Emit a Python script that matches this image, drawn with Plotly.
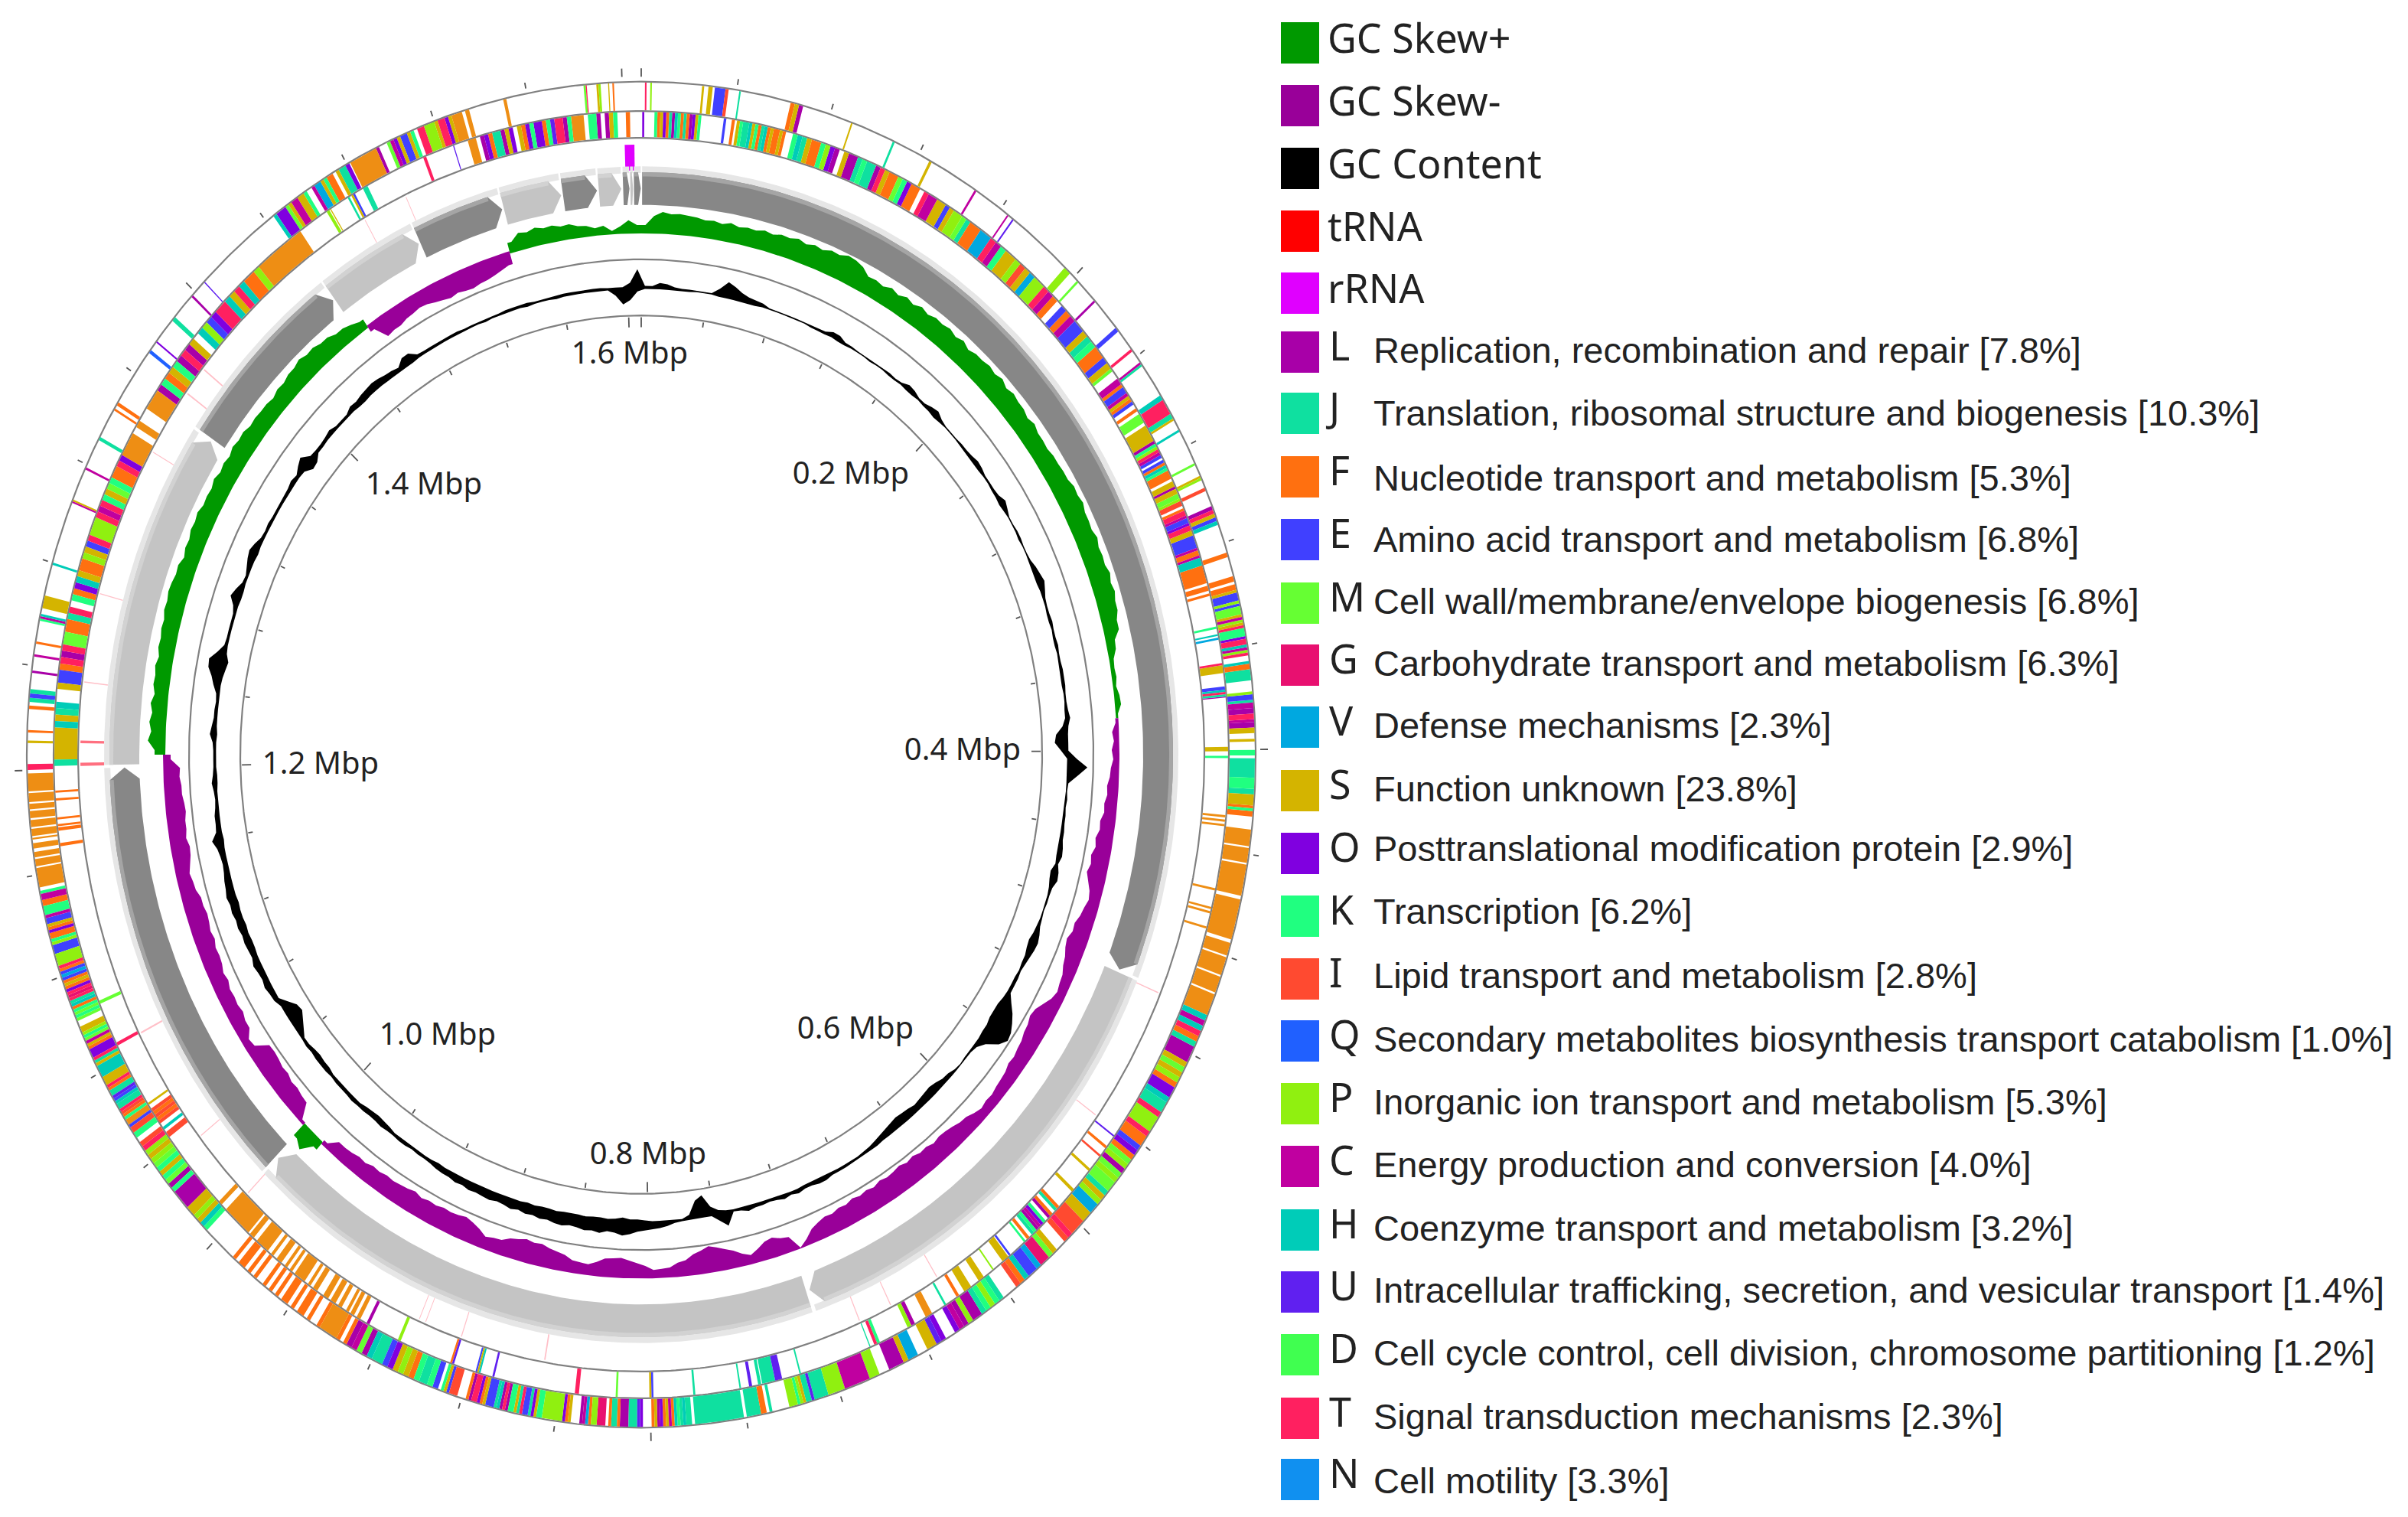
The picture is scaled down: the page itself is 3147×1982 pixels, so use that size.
import numpy as np
import plotly.graph_objects as go

W, H = 3147, 1982
CX, CY, STRETCH = 838, 986, 1.095
GENOME_MBP = 1.608

COG_COLORS = {"L": "#A800A8", "J": "#0FE0A0", "F": "#FF7010", "f": "#EE8E14", "E": "#4040FF", "M": "#66FF33",
              "G": "#E81070", "V": "#00A8E0", "S": "#D4B400", "O": "#8000E0", "K": "#20FF80", "I": "#FF4A30",
              "Q": "#2060FF", "P": "#90F010", "C": "#C000A0", "H": "#00CCB8", "U": "#6020F0", "D": "#40FF50",
              "T": "#FF2060", "N": "#1090F0"}

LEGEND_TOP = ["GC Skew+", "GC Skew-", "GC Content", "tRNA", "rRNA"]
LEGEND_TOP_COLORS = ["#009900", "#990099", "#000000", "#FF0000", "#E000FF"]
LEGEND_LETTERS = list("LJFEMGVSOKIQPCHUDTN")
LEGEND_TEXT = ["Replication, recombination and repair [7.8%]", "Translation, ribosomal structure and biogenesis [10.3%]",
               "Nucleotide transport and metabolism [5.3%]", "Amino acid transport and metabolism [6.8%]",
               "Cell wall/membrane/envelope biogenesis [6.8%]", "Carbohydrate transport and metabolism [6.3%]",
               "Defense mechanisms [2.3%]", "Function unknown [23.8%]", "Posttranslational modification protein [2.9%]",
               "Transcription [6.2%]", "Lipid transport and metabolism [2.8%]",
               "Secondary metabolites biosynthesis transport catabolism [1.0%]", "Inorganic ion transport and metabolism [5.3%]",
               "Energy production and conversion [4.0%]", "Coenzyme transport and metabolism [3.2%]",
               "Intracellular trafficking, secretion, and vesicular transport [1.4%]",
               "Cell cycle control, cell division, chromosome partitioning [1.2%]", "Signal transduction mechanisms [2.3%]",
               "Cell motility [3.3%]"]

MAP_LABELS = ["1.6 Mbp", "0.2 Mbp", "0.4 Mbp", "0.6 Mbp", "0.8 Mbp", "1.0 Mbp", "1.2 Mbp", "1.4 Mbp"]

# GC skew, one value per degree clockwise from the origin; + is outward (green), - inward (purple)
GC_SKEW = [
 10,21,26,24,25,24,23,21,22,20, 23,20,22,21,24,22,25,24,27,24, 27,25,29,28,32,31,28,21,22,20,
 24,21,25,22,26,23,26,25,27,24, 27,23,26,26,28,26,29,25,28,26, 26,23,26,23,23,22,24,24,25,25,
 28,27,29,26,26,25,28,25,26,25, 28,25,27,24,24,20,20,12,11,6, 5,6,4,7,8,3,-4,-9,-7,-10,
 -8,-11,-12,-15,-14,-17,-16,-20,-19,-23, -21,-25,-23,-26,-22,-17,-15,-18,-20,-24, -23,-27,-25,-21,-19,-15,-14,-12,-15,-21,
 -27,-29,-26,-25,-22,-21,-19,-20,-17,-16, -15,-13,-14,-12,-15,-19,-20,-23,-25,-26, -24,-27,-26,-29,-27,-30,-28,-27,-29,-26,
 -28,-26,-28,-25,-26,-23,-24,-21,-17,-8, -1,-18,-20,-24,-22,-16,-11,-15,-21,-25, -29,-32,-28,-25,-19,-17,-12,-11,-10,-15,
 -18,-21,-24,-23,-22,-17,-13,-14,-15,-20, -22,-24,-27,-26,-28,-25,-23,-18,-17,-15, -21,-25,-28,-26,-25,-26,-24,-25,-23,-26,
 -24,-23,-22,-23,-21,-22,-19,-20,-18,-17, -17,-6,12,27,20,-4,-22,-23,-25,-24, -27,-26,-28,-29,-28,-12,-10,-18,-18,-21,
 -19,-20,-19,-22,-20,-23,-24,-23,-26,-24, -26,-27,-25,-25,-21,-20,-18,-21,-24,-25, -22,-24,-24,-26,-25,-23,-23,-21,-22,-10,
 14,23,19,22,19,22,18,21,20,22, 19,22,21,23,22,25,24,26,25,23, 24,20,23,22,25,24,26,23,24,23,
 26,23,25,23,26,24,25,22,23,22, 22,20,23,22,25,25,28,25,26,23, 23,19,19,16,12,-9,-26,-24,-24,-21,
 -20,-18,-19,-22,-24,-26,-24,-26,-27,-25, -24,-22,-19,-16,13,21,19,22,19,20, 17,18,14,13,9,11,4,9,16,10]

# GC content excursions outward and inward of the track centre, one value per degree
GC_UP = [
 2,2,6,5,2,1,1,1,1,1, 8,18,14,9,6,5,4,1,1,1, 1,1,1,1,2,2,6,6,2,2, 1,1,1,1,2,2,1,2,6,5,
 2,2,5,7,3,1,1,1,2,2, 3,5,4,2,2,2,3,7,4,1, 1,2,2,1,1,2,5,7,9,6, 3,2,2,3,2,2,3,2,2,3,
 3,3,2,2,3,5,2,1,1,1, 12,26,14,2,1,2,1,2,2,3, 3,5,6,3,6,7,3,2,2,1, 2,3,6,8,7,5,3,2,3,3,
 3,10,18,24,29,31,24,10,3,1, 1,1,1,1,1,1,1,1,1,1, 1,1,1,1,1,1,2,2,2,2, 2,3,3,3,5,5,3,3,5,3,
 5,3,2,3,3,5,2,1,16,8, 1,1,1,1,2,3,6,8,9,10, 12,15,17,14,13,16,14,15,13,12, 14,13,11,12,10,11,9,11,9,8,
 10,9,8,9,7,8,6,6,5,3, 2,2,1,2,2,1,1,2,1,1, 2,2,3,2,2,2,1,2,2,2, 1,2,1,1,1,1,1,1,5,6,
 8,6,7,9,6,7,8,7,9,8, 10,9,11,9,8,6,5,6,8,13, 6,5,5,3,2,3,5,3,2,2, 2,3,7,5,3,3,2,3,8,12,
 18,19,10,3,2,2,2,2,5,12, 8,3,2,5,8,10,7,3,2,3, 2,2,2,2,3,5,3,8,12,3, 2,2,3,5,2,2,2,6,5,7,
 8,9,8,6,5,3,10,10,3,2, 2,2,2,2,2,1,1,1,1,1, 1,2,2,2,2,1,1,1,2,2, 2,2,2,2,2,1,1,1,6,22]
GC_DOWN = [
 1,1,1,1,1,1,1,0,0,0, 1,1,1,1,1,1,0,0,0,0, 0,0,0,1,1,1,0,1,1,0, 0,0,1,0,0,1,1,0,1,1,
 0,1,1,2,1,0,0,0,0,1, 1,1,1,0,0,1,1,2,1,0, 0,0,1,0,0,0,1,1,1,0, 0,0,1,1,0,1,1,0,1,1,
 1,1,0,0,1,1,5,14,16,8, 0,0,0,0,0,0,1,1,1,1, 1,1,1,0,4,3,1,0,0,0, 0,1,2,4,3,1,1,0,1,1,
 1,2,4,4,4,2,2,1,1,1, 1,0,1,4,5,8,10,9,8,7, 9,10,11,10,8,6,4,2,1,0, 0,0,0,1,1,1,1,1,0,0,
 0,1,1,1,1,1,1,1,2,4, 10,25,20,4,0,0,0,0,0,1, 2,2,4,2,1,2,2,1,2,2, 2,1,2,2,1,2,1,1,1,1,
 1,1,1,1,1,1,1,1,2,1, 1,1,2,2,2,2,4,5,6,5, 4,2,2,2,2,2,2,4,4,5, 4,2,2,8,14,19,17,9,1,1,
 1,1,1,1,1,2,2,1,2,1, 1,2,1,1,1,1,1,1,1,2, 1,1,1,1,1,1,2,2,1,1, 1,1,2,1,1,1,1,1,1,2,
 4,6,2,1,1,1,1,1,1,2, 2,1,1,1,1,2,1,1,1,1, 1,1,1,1,1,1,1,2,9,8, 2,2,1,1,1,1,1,1,2,2,
 1,1,1,1,2,2,2,2,1,1, 1,1,1,1,1,1,1,1,2,1, 1,1,1,1,2,1,1,1,2,1, 1,1,1,1,1,1,8,19,14,4]

# coding blocks on the backbone: start, end (degrees clockwise), shade 0 dark / 1 light
BLOCK_START = [0.1, 112.6, 161.4, 224.9, 269.0, 303.9, 323.6, 334.7, 344.6, 351.3, 355.3, 358.0, 358.8, 359.2]
BLOCK_END = [112.3, 161.0, 224.6, 268.7, 303.6, 323.4, 334.5, 344.4, 351.1, 355.1, 357.8, 358.7, 359.1, 359.95]
BLOCK_SHADE = [0, 1, 1, 0, 1, 0, 1, 0, 1, 0, 1, 0, 1, 0]

TRNA_DEG = [112.8, 125.9, 148.2, 153.6, 157.1, 189.9, 198.7, 202.6, 203.3, 224.5, 231.7, 243.1, 269.1, 271.2, 276.8,
            285.2, 299.5, 306.0, 308.8, 330.5, 335.2]
TRNA_WIDTH = [0.12, 0.1, 0.1, 0.1, 0.1, 0.14, 0.1, 0.08, 0.08, 0.1, 0.1, 0.16, 0.3, 0.25, 0.1, 0.1, 0.1, 0.14, 0.14, 0.08, 0.08]
RRNA_SPAN = (358.3, 359.3)

# outer gene ring: start degree, end degree, gene classes in equal slices ('.' = no gene)
OUTER_GENES = [
 (0.35, 0.5, "T"), (0.85, 1.0, "P"), (5.7, 5.9, "S"), (6.3, 6.7, "S"), (6.9, 7.9, "EEE"), (7.9, 8.2, "I"), (9.2, 9.35, "J"),
 (14.1, 15.3, "FSL"), (20, 20.15, "S"), (24.2, 24.4, "J"), (28, 28.25, "S"), (32.9, 33.1, "C"), (36.6, 36.75, "C"),
 (37.2, 37.35, "U"), (43.6, 44.3, "P"), (45.2, 45.4, "M"), (47.5, 47.7, "L"), (50.6, 51, "E"), (52.9, 53.15, "T"),
 (54.3, 54.7, "CJ"), (57.7, 60, "HTTTJ"), (60, 60.2, "S"), (61.1, 61.3, "H"), (64.3, 64.5, "M"), (65.5, 65.9, "SP"),
 (66.6, 66.9, "I"), (68.3, 70, "LTSEH"), (72.5, 72.9, "F"),
 (74.6, 95.3, "FF.FFSEEEPEMMMSCPSTKKKOTTHCPT..HFFJJJJ....PEEJCCLLTTCLLSS..S...KK.JJJJJJJKKKKJJSSSSFKFF"),
 (96.4, 112.8, "fffffffff.ffffffff.fffffffffffffffff..ffffffffffffffffffffff..fffffff.ffffffffff.fffffffff.ffffffffffff"),
 (112.8, 129, "HCHTFJLLLSMSPFOOHJJTPPPTFFEOFMPLM"),
 (129, 160.6, "PMMJSPVVSSIIITI..SMGGVEEHFI...JKPKJLLPLCO..OUSS..VVSLLL..PPCCCCC"),
 (160.6, 200.7, "PPPPPPJJJJJUJJSPKPPP......J.FFJJJJJ.JJJJJJJJJJJJJJJJJ.JJHJKHFCSFOLSF...OUJJJLLLFJJF.GGGPPFVCL...SFOPPPPPPPKKSOJEETJSKKLTLHJEEESFOTTLF...IIIESK.EEKKJ"),
 (200.7, 208.7, "JKFSPSOEJJHLMCL"),
 (208.7, 221.7, "F.FfffffF..F.FF.F.FF.F.F.F..F.F.FF.F"),
 (225.0, 234.8, "KHSPSSLLLLKLMKSKMPSPTI"),
 (235.0, 258.3, ".KKIIEffKFITJJHEUJJFTSSSHHHHSJTOOOFSCMKPSS..MKMKFHJTGTOFSFEVEFTPPPPEEEPKFFOFSEECKKKFFCCK"),
 (258.6, 268.4, "fffffffffff.ffff.fff..fff..f.ffff.ffff.ffff.fff.fffff.ffffffffff"),
 (268.7, 269.2, "T"), (271, 271.2, "S"), (271.9, 272.1, "F"), (273.9, 274.2, "F"), (274.5, 275.6, "JEJ"), (277, 277.2, "L"),
 (278.4, 278.6, "C"), (279.5, 279.7, "F"), (281.5, 282.1, "KCH"), (282.6, 283.7, "SSS"), (286.4, 286.6, "H"),
 (292, 292.3, "CS"), (295.1, 295.3, "C"), (297.9, 298.2, "J"), (300.8, 301, "F"), (301.3, 301.6, "F"),
 (306.7, 307, "Q"), (307.8, 307.95, "O"), (310.2, 310.6, "JJ"), (312.9, 313.1, "L"), (314.6, 314.7, "U"),
 (323.2, 327.3, "HOOOMSCCSSK."), (327.5, 330.8, "CVVSKFF.SJ"), (330.8, 331.6, "JO"), (331.7, 334.4, "fffffff"),
 (334.4, 334.7, "L"), (335.5, 339.6, "MCOSEESK.TTP"), (339.6, 343, "PPSTTOSfff"), (343.3, 343.7, "f"), (347, 347.3, "f"),
 (354.6, 354.8, "M"), (354.8, 354.9, "T"), (355.8, 356.2, "SP"), (356.9, 357, "S"), (357.3, 357.45, "F"),
]

# inner gene ring, same form
INNER_GENES = [
 (0.1, 0.3, "O"), (1.3, 5.9, "KFSOFJLHKFJFLOSK"), (8.1, 8.35, "E"), (8.9, 9.2, "F"), (9.4, 14.3, "SKJJHSKFJHFSFFSF"),
 (15, 34.1, "KHJSFFKPOL.SLLJKJJLTSFFMKOFF.TCCSSESPPMJ"), (34.1, 53.1, "FFVVTCKSSPISVPPTCF.EFCEESJKFFES"),
 (53.1, 53.4, "M"), (54.2, 57, "CCFEECSFE"), (57.4, 57.7, "F"), (58, 58.9, "MM"), (59.2, 60.5, "SSS"),
 (60.5, 62.5, "SLKPTCE"), (62.7, 65.1, "EFHKFFF.S"), (65.1, 75.7, "SLSSMMPII.FTTCEEOTTSSEEEEECFFCHHHFFFFFFF.FF.F"),
 (78.5, 78.7, "K"), (79.2, 79.35, "H"), (79.5, 79.7, "V"), (81.8, 82, "T"), (82, 82.7, "SS"), (83.9, 84.2, "E"),
 (84.2, 84.4, "H"), (84.4, 84.6, "T"), (84.6, 84.8, "J"), (84.8, 84.9, "L"), (89.3, 89.7, "S"), (90.1, 90.3, "K"),
 (95.4, 96.4, "f.f.f"), (102, 102.2, "f"), (103.7, 104.3, "f.f"), (105.5, 105.7, "f"),
 (126.3, 126.45, "U"), (127.5, 127.75, "F"), (128.5, 128.7, "I"), (130.1, 130.35, "S"), (132.5, 132.8, "S"),
 (134.6, 138.9, "FJ.FL.KOCLKJ.F"), (139.1, 139.3, "K"), (141, 141.2, "E"), (141.3, 142, "SS"), (143.1, 143.25, "P"),
 (144.3, 144.9, "SS"), (145.8, 146.6, "SS"), (147.2, 147.5, "F"), (148.7, 148.9, "J"), (150.3, 151, "ff"),
 (152.2, 153, "LP"), (156, 156.6, "KT"), (157, 157.1, "J"), (164.2, 164.35, "J"), (166.1, 166.8, "UU"),
 (166.8, 168.1, "JJJ"), (168.2, 168.5, "J"), (169.1, 169.4, "U"), (170.2, 170.35, "J"), (174.7, 174.9, "J"),
 (178.8, 179.2, "ES"), (182.3, 182.5, "M"), (186.1, 186.5, "T"), (194.5, 194.7, "U"), (195.9, 196.4, "HSE"),
 (198.6, 199, "UF"), (204.2, 204.5, "P"), (207.6, 207.9, "L"), (208.6, 209, "f"), (209.3, 209.7, "f"), (209.9, 210.2, "f"),
 (210.7, 211.1, "f"), (211.4, 212.8, "ff.ff"), (213.5, 214, "f"), (214.3, 214.6, "f"), (215, 216.2, "ffff"),
 (216.5, 216.8, "f"), (217.1, 217.4, "f"), (217.8, 218.4, "f"), (218.8, 219.1, "f"), (219.5, 220.9, "fff"),
 (221.3, 221.8, "f"), (222, 225, "fffff"), (225.6, 226, "f"), (233.5, 234.6, "II.H"), (235, 236.6, "IFIFI"),
 (237, 237.2, "S"), (243.1, 243.4, "T"), (247.2, 247.5, "M"), (261.8, 262.1, "F"), (263.2, 263.5, "F"),
 (263.6, 263.8, "F"), (264.2, 264.4, "F"), (265.9, 266.1, "F"), (266.6, 266.8, "F"),
 (269, 283.9, "JSSSSSHSJH..SEEFTLTMMFFJT."), (283.9, 300, "KFOHSFFPSETPPPTCTKSMKFFTOffff"),
 (300, 324.5, ".f..fffLKFSKLTLS.HPEOTTHSTHFFPffffffff"), (327.6, 327.9, "P"), (328, 328.1, "S"), (330, 330.2, "J"),
 (330.4, 330.8, "SE"), (331.7, 332.2, "J"), (338.2, 338.5, "T"), (341.3, 341.4, "U"),
 (342.8, 358.9, "ff.LOFJJLSO.SFOKOOFKUTTLKfff.KKL.LSK..F"),
]

RING_RADII = [803, 768, 736, 591, 524]
OUTER_BAND, INNER_BAND = (769, 802), (737, 767)
BACKBONE = (656, 695)
GREEN_BASE, PURPLE_BASE, GC_BASE = 622, 625, 557
TRNA_BAND = (702, 733)
RRNA_BAND = (697, 728)


def arc(a0, a1, r):
    n = max(2, int(abs(a1 - a0) / 0.5) + 2)
    return np.linspace(a0, a1, n), np.full(n, float(r))


def to_xy(deg, r):
    t = np.radians(deg)
    return np.asarray(r) * np.sin(t), np.asarray(r) * np.cos(t)


def band_poly(a0, a1, r0, r1):
    a_o, r_o = arc(a0, a1, r1)
    a_i, r_i = arc(a1, a0, r0)
    return np.r_[a_o, a_i], np.r_[r_o, r_i]


class Poly:
    def __init__(self):
        self.x, self.y = [], []

    def add(self, deg, r):
        x, y = to_xy(deg, r)
        self.x += list(x) + [None]
        self.y += list(y) + [None]


def fill_trace(p, color):
    return go.Scatter(x=p.x, y=p.y, mode="lines", fill="toself", fillcolor=color, line=dict(width=0, color=color),
                      hoverinfo="skip", showlegend=False, xaxis="x", yaxis="y")


fig = go.Figure()

# ring outlines
for r in RING_RADII:
    d = np.linspace(0, 360, 721)
    x, y = to_xy(d, np.full(d.size, r))
    fig.add_trace(go.Scatter(x=x, y=y, mode="lines", line=dict(color="#808080", width=2.2), hoverinfo="skip", showlegend=False))

# gene rings
polys = {k: Poly() for k in COG_COLORS}
for tracks, band in ((OUTER_GENES, OUTER_BAND), (INNER_GENES, INNER_BAND)):
    for a0, a1, s in tracks:
        w = (a1 - a0) / len(s)
        i = 0
        while i < len(s):
            j = i
            while j + 1 < len(s) and s[j + 1] == s[i]:
                j += 1
            if s[i] != ".":
                polys[s[i]].add(*band_poly(a0 + i * w, a0 + (j + 1) * w, *band))
            i = j + 1
for k, p in polys.items():
    if p.x:
        fig.add_trace(fill_trace(p, COG_COLORS[k]))

# tRNA / rRNA
pale, strong = Poly(), Poly()
for d, w in zip(TRNA_DEG, TRNA_WIDTH):
    (strong if w > 0.2 else pale).add(*band_poly(d - w / 2, d + w / 2, *TRNA_BAND))
fig.add_trace(fill_trace(pale, "#FFC0C8"))
fig.add_trace(fill_trace(strong, "#FF7080"))
p = Poly()
p.add(*band_poly(*RRNA_SPAN, *RRNA_BAND))
fig.add_trace(fill_trace(p, "#E000FF"))

# backbone
glow = Poly()
for s, e in zip(BLOCK_START, BLOCK_END):
    glow.add(*band_poly(s, e, BACKBONE[1] - 1, BACKBONE[1] + 7))
fig.add_trace(fill_trace(glow, "#e6e6e6"))
SHADES = ["#878787", "#c4c4c4"]
EDGE = ["#a5a5a5", "#d2d2d2"]
for shade in (0, 1):
    main, edge = Poly(), Poly()
    for s, e, sh in zip(BLOCK_START, BLOCK_END, BLOCK_SHADE):
        if sh != shade:
            continue
        head = min(1.2, (e - s) * 0.4)
        mid = (BACKBONE[0] + BACKBONE[1]) / 2
        a_o, r_o = arc(s, e - head, BACKBONE[1])
        a_i, r_i = arc(e - head, s, BACKBONE[0])
        main.add(np.r_[a_o, e, a_i], np.r_[r_o, mid, r_i])
        a_o, r_o = arc(s, e - head, BACKBONE[1])
        a_i, r_i = arc(e - head, s, BACKBONE[1] - 5)
        edge.add(np.r_[a_o, a_i], np.r_[r_o, r_i])
    fig.add_trace(fill_trace(main, SHADES[shade]))
    fig.add_trace(fill_trace(edge, EDGE[shade]))

# GC skew
skew = np.array(GC_SKEW, float)
green, purple = Poly(), Poly()
i = 0
while i < 360:
    j = i
    while j + 1 < 360 and np.sign(skew[j + 1]) == np.sign(skew[i]):
        j += 1
    base = GREEN_BASE if skew[i] > 0 else PURPLE_BASE
    d = np.arange(i, j + 1) + 0.5
    base_a, base_r = arc(j + 1, i, base)
    deg = np.r_[i, d, j + 1, base_a]
    rad = np.r_[base + skew[i], base + skew[i:j + 1], base + skew[j], base_r]
    (green if skew[i] > 0 else purple).add(deg, rad)
    i = j + 1
fig.add_trace(fill_trace(green, "#009900"))
fig.add_trace(fill_trace(purple, "#990099"))

# GC content
d = np.arange(361) + 0.5
up = np.r_[GC_UP, GC_UP[0]] + 0.3
dn = np.r_[GC_DOWN, GC_DOWN[0]] + 0.3
gc = Poly()
gc.add(np.r_[d, d[::-1]], np.r_[GC_BASE + up, (GC_BASE - dn)[::-1]])
fig.add_trace(fill_trace(gc, "#000000"))

# scale ticks
tx_i, ty_i, tx_o, ty_o = [], [], [], []
for k in range(41):
    deg = 360 * (k * 0.04) / GENOME_MBP
    major = k % 5 == 0
    x, y = to_xy(deg, np.array([524 - (14 if major else 8), 524 - 2]))
    tx_i += list(x) + [None]
    ty_i += list(y) + [None]
    x, y = to_xy(deg, np.array([809, 816 + (3 if major else 0)]))
    tx_o += list(x) + [None]
    ty_o += list(y) + [None]
for tx, ty in ((tx_i, ty_i), (tx_o, ty_o)):
    fig.add_trace(go.Scatter(x=tx, y=ty, mode="lines", line=dict(color="#555555", width=1.8), hoverinfo="skip", showlegend=False))

# text in page pixels, on the overlay axes
MAP_X = [823, 1112, 1258, 1118, 847, 572, 419, 554]
MAP_Y = [465, 622, 983, 1347, 1511, 1355, 1001, 636]
fig.add_trace(go.Scatter(x=MAP_X, y=MAP_Y, mode="text", text=MAP_LABELS, textposition="middle center", xaxis="x2", yaxis="y2",
                         textfont=dict(family="Noto Sans", size=40, color="#222222"), hoverinfo="skip", showlegend=False))

TOP_Y = [56, 138, 220, 302, 383]
LOW_Y = [460, 540, 623, 705, 788, 869, 950, 1033, 1115, 1197, 1279, 1360, 1442, 1524, 1607, 1688, 1770, 1853, 1933]
TEXT_Y = [462, 544, 629, 709, 790, 871, 952, 1035, 1113, 1195, 1279, 1362, 1444, 1526, 1609, 1690, 1772, 1855, 1939]
fig.add_trace(go.Scatter(x=[1735] * 5, y=TOP_Y, mode="text", text=LEGEND_TOP, textposition="middle right", xaxis="x2", yaxis="y2",
                         textfont=dict(family="Noto Sans", size=52, color="#222222"), hoverinfo="skip", showlegend=False))
fig.add_trace(go.Scatter(x=[1737] * 19, y=[v - 2 for v in LOW_Y], mode="text", text=LEGEND_LETTERS, textposition="middle right", xaxis="x2", yaxis="y2",
                         textfont=dict(family="Noto Sans", size=52, color="#222222"), hoverinfo="skip", showlegend=False))
fig.add_trace(go.Scatter(x=[1795] * 19, y=TEXT_Y, mode="text", text=LEGEND_TEXT, textposition="middle right", xaxis="x2", yaxis="y2",
                         textfont=dict(family="Liberation Sans", size=47, color="#222222"), hoverinfo="skip", showlegend=False))

shapes = []
key_colors = LEGEND_TOP_COLORS + [COG_COLORS[c] for c in LEGEND_LETTERS]
for yc, c in zip(TOP_Y + LOW_Y, key_colors):
    shapes.append(dict(type="rect", xref="x2", yref="y2", x0=1674, x1=1724, y0=yc - 27, y1=yc + 27, fillcolor=c, line=dict(width=0)))

fig.update_layout(
    width=W, height=H, margin=dict(l=0, r=0, t=0, b=0), plot_bgcolor="white", paper_bgcolor="white", shapes=shapes,
    xaxis=dict(range=[-CX, W - CX], visible=False, domain=[0, 1], fixedrange=True),
    yaxis=dict(range=[-(H - CY) / STRETCH, CY / STRETCH], visible=False, domain=[0, 1], fixedrange=True),
    xaxis2=dict(range=[0, W], visible=False, overlaying="x", domain=[0, 1], fixedrange=True),
    yaxis2=dict(range=[H, 0], visible=False, overlaying="y", domain=[0, 1], fixedrange=True),
)
fig.write_html("out.html", config={"displayModeBar": False}, post_script="document.body.style.margin='0';")
